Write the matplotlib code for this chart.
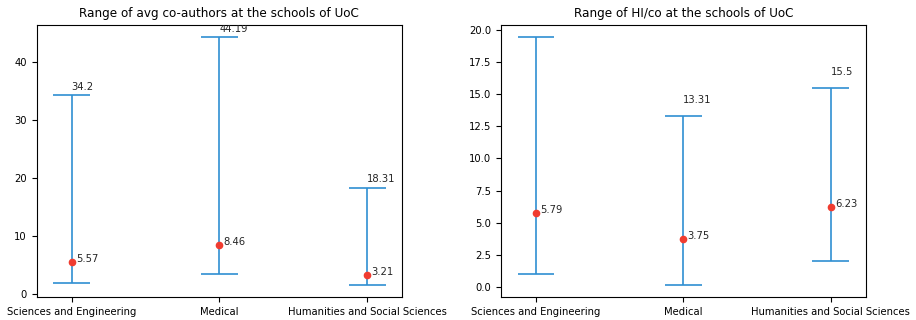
import matplotlib
matplotlib.use("Agg")
import matplotlib.pyplot as plt

schools = ["Sciences and Engineering", "Medical", "Humanities and Social Sciences"]

# average number of co-authors per school
coauth_min = [1.8, 3.4, 1.6]
coauth_max = [34.2, 44.19, 18.31]
coauth_avg = [5.57, 8.46, 3.21]

# HI/co per school
hico_min = [1.06, 0.21, 2.04]
hico_max = [19.4, 13.31, 15.5]
hico_avg = [5.79, 3.75, 6.23]

blue = "#2f8fd2"
red = "#f03c30"
fs = 7.2


def range_plot(ax, lo, hi, avg, title):
    x = list(range(len(schools)))
    cap = 0.125
    ax.vlines(x, lo, hi, color=blue, lw=1.2)
    ax.hlines(lo, [i - cap for i in x], [i + cap for i in x], color=blue, lw=1.2)
    ax.hlines(hi, [i - cap for i in x], [i + cap for i in x], color=blue, lw=1.2)
    ax.plot(x, avg, "o", color=red, ms=4.5, zorder=3)
    for i in x:
        ax.text(i, hi[i] + 1, str(hi[i]), fontsize=fs, color="#262626", clip_on=True)
        ax.text(i + 0.03, avg[i], str(avg[i]), fontsize=fs, color="#262626")
    ax.set_xticks(x)
    ax.set_xticklabels(schools, fontsize=fs)
    ax.tick_params(axis="y", labelsize=fs)
    ax.set_title(title, fontsize=8.64)


fig, (ax1, ax2) = plt.subplots(1, 2, figsize=(9.16, 3.2), dpi=100)
ax1.set_position([0.040, 0.072, 0.399, 0.85])
ax2.set_position([0.547, 0.072, 0.398, 0.85])

range_plot(ax1, coauth_min, coauth_max, coauth_avg, "Range of avg co-authors at the schools of UoC")
range_plot(ax2, hico_min, hico_max, hico_avg, "Range of HI/co at the schools of UoC")

fig.savefig("out.png", dpi=100)
